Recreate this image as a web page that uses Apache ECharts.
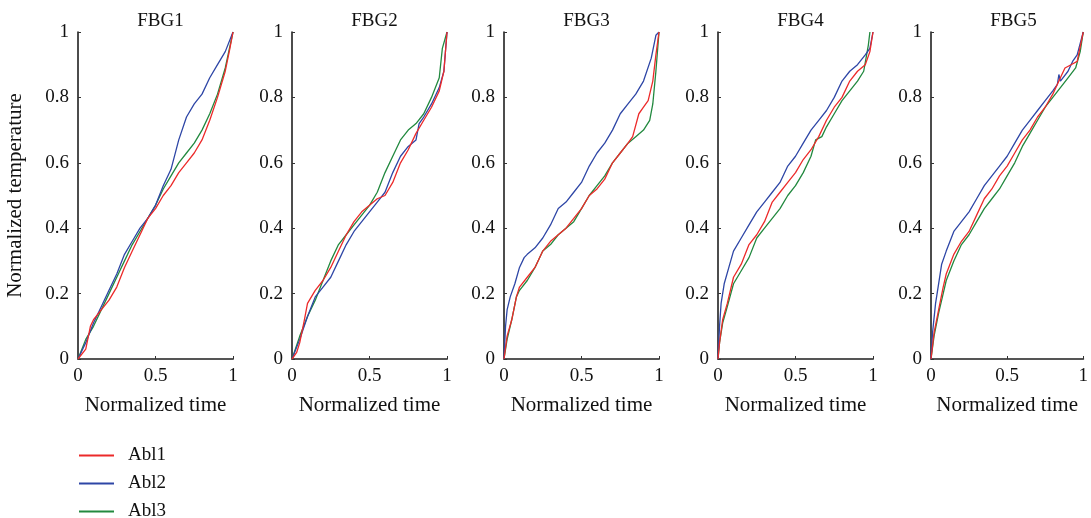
<!DOCTYPE html>
<html>
<head>
<meta charset="utf-8">
<script src="https://cdn.jsdelivr.net/npm/echarts@6/dist/echarts.min.js"></script>
<style>html,body{margin:0;padding:0;background:#fff}#c{width:1091px;height:518px}</style>
</head>
<body>
<div id="c"></div>
<script>
const panelTitles = ['FBG1','FBG2','FBG3','FBG4','FBG5'];
const seriesNames = ['Abl1','Abl2','Abl3'];
const xAxisName = 'Normalized time';
const yAxisName = 'Normalized temperature';

// [normalized time, normalized temperature]
const fbg1Abl1 = [[0,0],[0.05,0.03],[0.08,0.1],[0.1,0.12],[0.15,0.15],[0.2,0.18],[0.25,0.22],[0.3,0.28],[0.35,0.33],[0.4,0.38],[0.45,0.43],[0.5,0.46],[0.55,0.5],[0.6,0.53],[0.65,0.57],[0.7,0.6],[0.75,0.63],[0.8,0.67],[0.85,0.73],[0.9,0.8],[0.95,0.88],[0.98,0.95],[1,1]];
const fbg1Abl2 = [[0,0],[0.05,0.05],[0.1,0.11],[0.15,0.16],[0.2,0.21],[0.25,0.26],[0.3,0.32],[0.35,0.36],[0.4,0.4],[0.45,0.43],[0.5,0.47],[0.55,0.53],[0.6,0.58],[0.65,0.67],[0.7,0.74],[0.75,0.78],[0.8,0.81],[0.85,0.86],[0.9,0.9],[0.95,0.94],[1,1]];
const fbg1Abl3 = [[0,0],[0.05,0.06],[0.1,0.1],[0.15,0.15],[0.2,0.2],[0.25,0.25],[0.3,0.3],[0.35,0.35],[0.4,0.39],[0.45,0.43],[0.5,0.47],[0.55,0.52],[0.6,0.56],[0.65,0.6],[0.7,0.63],[0.75,0.66],[0.8,0.7],[0.85,0.75],[0.9,0.81],[0.95,0.89],[1,1]];

const fbg2Abl1 = [[0,0],[0.03,0.02],[0.05,0.05],[0.08,0.12],[0.1,0.17],[0.15,0.21],[0.2,0.24],[0.25,0.28],[0.3,0.33],[0.35,0.38],[0.4,0.42],[0.45,0.45],[0.5,0.47],[0.55,0.49],[0.6,0.5],[0.65,0.54],[0.7,0.6],[0.75,0.64],[0.8,0.69],[0.85,0.73],[0.9,0.77],[0.95,0.82],[0.98,0.88],[1,1]];
const fbg2Abl2 = [[0,0],[0.05,0.06],[0.1,0.13],[0.15,0.19],[0.2,0.22],[0.25,0.25],[0.3,0.3],[0.35,0.35],[0.4,0.39],[0.45,0.42],[0.5,0.45],[0.55,0.48],[0.6,0.51],[0.65,0.57],[0.7,0.62],[0.75,0.65],[0.8,0.67],[0.82,0.72],[0.85,0.74],[0.9,0.78],[0.95,0.83],[0.98,0.88],[1,1]];
const fbg2Abl3 = [[0,0],[0.05,0.07],[0.1,0.13],[0.15,0.18],[0.2,0.24],[0.25,0.3],[0.3,0.35],[0.35,0.38],[0.4,0.41],[0.45,0.44],[0.5,0.47],[0.55,0.51],[0.6,0.57],[0.65,0.62],[0.7,0.67],[0.75,0.7],[0.8,0.72],[0.85,0.75],[0.9,0.8],[0.95,0.86],[0.97,0.95],[1,1]];

const fbg3Abl1 = [[0,0],[0.02,0.07],[0.05,0.12],[0.08,0.19],[0.1,0.22],[0.15,0.25],[0.2,0.28],[0.25,0.33],[0.3,0.36],[0.35,0.38],[0.4,0.4],[0.45,0.43],[0.5,0.46],[0.55,0.5],[0.6,0.52],[0.65,0.55],[0.7,0.6],[0.75,0.63],[0.8,0.66],[0.83,0.68],[0.87,0.75],[0.9,0.77],[0.93,0.79],[0.96,0.85],[0.98,0.93],[1,1]];
const fbg3Abl2 = [[0,0],[0.01,0.1],[0.02,0.15],[0.04,0.19],[0.07,0.23],[0.1,0.28],[0.13,0.31],[0.15,0.32],[0.2,0.34],[0.25,0.37],[0.3,0.41],[0.35,0.46],[0.4,0.48],[0.45,0.51],[0.5,0.54],[0.55,0.59],[0.6,0.63],[0.65,0.66],[0.7,0.7],[0.75,0.75],[0.8,0.78],[0.85,0.81],[0.9,0.85],[0.95,0.92],[0.98,0.99],[1,1]];
const fbg3Abl3 = [[0,0],[0.02,0.06],[0.05,0.12],[0.08,0.19],[0.1,0.21],[0.15,0.24],[0.2,0.28],[0.25,0.33],[0.3,0.35],[0.35,0.38],[0.4,0.4],[0.45,0.42],[0.5,0.46],[0.55,0.5],[0.6,0.53],[0.65,0.56],[0.7,0.6],[0.75,0.63],[0.8,0.66],[0.85,0.68],[0.9,0.7],[0.94,0.73],[0.96,0.78],[0.98,0.88],[1,1]];

const fbg4Abl1 = [[0,0],[0.01,0.05],[0.03,0.12],[0.06,0.17],[0.1,0.25],[0.15,0.29],[0.2,0.35],[0.25,0.38],[0.3,0.42],[0.35,0.48],[0.4,0.51],[0.45,0.54],[0.5,0.57],[0.55,0.61],[0.6,0.64],[0.65,0.68],[0.7,0.73],[0.75,0.77],[0.8,0.8],[0.85,0.85],[0.9,0.88],[0.95,0.9],[0.98,0.94],[1,1]];
const fbg4Abl2 = [[0,0],[0.01,0.1],[0.02,0.17],[0.04,0.23],[0.07,0.28],[0.1,0.33],[0.15,0.37],[0.2,0.41],[0.25,0.45],[0.3,0.48],[0.35,0.51],[0.4,0.54],[0.45,0.59],[0.5,0.62],[0.55,0.66],[0.6,0.7],[0.65,0.73],[0.7,0.76],[0.75,0.8],[0.8,0.85],[0.85,0.88],[0.9,0.9],[0.95,0.93],[0.98,0.95],[1,1]];
const fbg4Abl3 = [[0,0],[0.01,0.05],[0.03,0.11],[0.06,0.16],[0.1,0.23],[0.15,0.27],[0.2,0.31],[0.25,0.37],[0.3,0.4],[0.35,0.43],[0.4,0.46],[0.45,0.5],[0.5,0.53],[0.55,0.57],[0.6,0.62],[0.63,0.67],[0.67,0.68],[0.7,0.71],[0.75,0.75],[0.8,0.79],[0.85,0.82],[0.9,0.85],[0.94,0.88],[0.97,0.96],[0.98,1]];

const fbg5Abl1 = [[0,0],[0.02,0.08],[0.05,0.15],[0.08,0.22],[0.1,0.26],[0.15,0.32],[0.2,0.36],[0.25,0.39],[0.3,0.44],[0.35,0.49],[0.4,0.52],[0.45,0.56],[0.5,0.59],[0.55,0.63],[0.6,0.67],[0.65,0.7],[0.7,0.74],[0.75,0.77],[0.8,0.81],[0.85,0.86],[0.88,0.89],[0.92,0.9],[0.96,0.91],[1,1]];
const fbg5Abl2 = [[0,0],[0.01,0.08],[0.03,0.17],[0.05,0.23],[0.07,0.29],[0.1,0.33],[0.15,0.39],[0.2,0.42],[0.25,0.45],[0.3,0.49],[0.35,0.53],[0.4,0.56],[0.45,0.59],[0.5,0.62],[0.55,0.66],[0.6,0.7],[0.65,0.73],[0.7,0.76],[0.75,0.79],[0.8,0.82],[0.83,0.84],[0.84,0.87],[0.85,0.85],[0.9,0.88],[0.93,0.91],[0.96,0.93],[1,1]];
const fbg5Abl3 = [[0,0],[0.02,0.07],[0.05,0.14],[0.08,0.2],[0.1,0.24],[0.15,0.3],[0.2,0.35],[0.25,0.38],[0.3,0.42],[0.35,0.46],[0.4,0.49],[0.45,0.52],[0.5,0.56],[0.55,0.6],[0.6,0.65],[0.65,0.69],[0.7,0.73],[0.75,0.77],[0.8,0.8],[0.85,0.83],[0.9,0.86],[0.95,0.89],[0.98,0.94],[1,1]];

const panelData = [
  [fbg1Abl1, fbg1Abl2, fbg1Abl3],
  [fbg2Abl1, fbg2Abl2, fbg2Abl3],
  [fbg3Abl1, fbg3Abl2, fbg3Abl3],
  [fbg4Abl1, fbg4Abl2, fbg4Abl3],
  [fbg5Abl1, fbg5Abl2, fbg5Abl3]
];

const colors = ['#ec2a2a', '#2e46a6', '#22893f'];
const FONT = '"Liberation Serif", "DejaVu Serif", serif';
const gridLefts = [78, 292, 504, 718, 931];
const gridW = 155, gridTop = 32, gridH = 327;

const grids = [], xAxes = [], yAxes = [], titles = [], series = [];
panelTitles.forEach((t, i) => {
  grids.push({left: gridLefts[i], top: gridTop, width: gridW, height: gridH});
  titles.push({text: t, left: gridLefts[i] + gridW / 2, top: 7, textAlign: 'center',
    textStyle: {fontFamily: FONT, fontSize: 19, fontWeight: 'normal', color: '#111'}});
  xAxes.push({type: 'value', gridIndex: i, min: 0, max: 1, interval: 0.5,
    name: xAxisName, nameLocation: 'middle', nameGap: 36,
    nameTextStyle: {fontFamily: FONT, fontSize: 21, color: '#111'},
    axisLine: {lineStyle: {color: '#555', width: 2}},
    axisTick: {show: true, inside: true, length: 3, lineStyle: {color: '#333'}},
    axisLabel: {fontFamily: FONT, fontSize: 19, color: '#111', margin: 8},
    splitLine: {show: false}});
  yAxes.push({type: 'value', gridIndex: i, min: 0, max: 1, interval: 0.2,
    name: i === 0 ? yAxisName : '', nameLocation: 'middle', nameGap: 52,
    nameTextStyle: {fontFamily: FONT, fontSize: 21, color: '#111'},
    axisLine: {show: true, lineStyle: {color: '#111', width: 1.5}},
    axisTick: {show: true, inside: true, length: 3, lineStyle: {color: '#333'}},
    axisLabel: {fontFamily: FONT, fontSize: 19, color: '#111', margin: 9},
    splitLine: {show: false}});
  seriesNames.forEach((n, k) => {
    series.push({type: 'line', name: n, xAxisIndex: i, yAxisIndex: i,
      data: panelData[i][k], showSymbol: false, symbol: 'none',
      lineStyle: {color: colors[k], width: 1.3}, itemStyle: {color: colors[k]},
      animation: false, z: 3 - k});
  });
});

const chart = echarts.init(document.getElementById('c'));
chart.setOption({
  backgroundColor: '#fff',
  animation: false,
  title: titles,
  grid: grids,
  xAxis: xAxes,
  yAxis: yAxes,
  legend: {data: seriesNames, orient: 'vertical', left: 79, top: 446, height: 90, padding: 0,
    icon: 'rect', itemWidth: 35, itemHeight: 2, itemGap: 9,
    textStyle: {fontFamily: FONT, fontSize: 19, color: '#111', lineHeight: 18, padding: [0, 0, 0, 9]}},
  series: series
});
</script>
</body>
</html>
